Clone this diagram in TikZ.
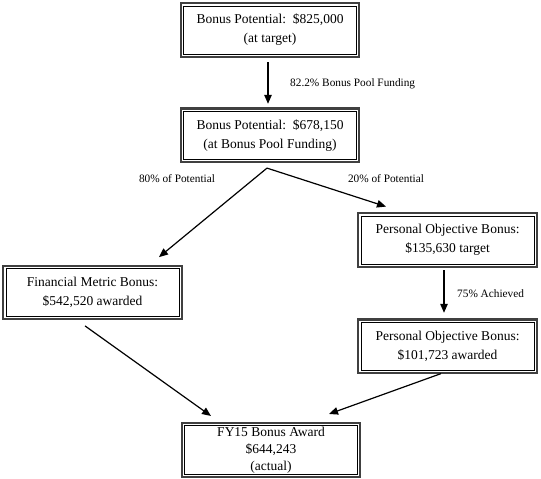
\documentclass[tikz,border=0pt]{standalone}
\usepackage{fontspec}
\setmainfont{Liberation Serif}
\usetikzlibrary{positioning, arrows.meta}

\begin{document}
\begin{tikzpicture}[
    x=1pt, y=-1pt,
    >={Triangle[length=9pt,width=7.5pt]},
    box/.style={
        rectangle,
        draw,
        line width=0.8pt,
        minimum width=173pt,
        minimum height=48pt,
        inner sep=1pt,
        align=center,
        font=\fontsize{13.5}{19}\selectfont
    },
    frame/.style={draw=black!75, line width=2.2pt},
    arrow/.style={->, line width=1.2pt},
    lbl/.style={font=\fontsize{11.3}{13}\selectfont, inner sep=0pt}
]
\useasboundingbox (0,0) rectangle (541,479);

% Top boxes
\node[box] (target) at (270,30) {Bonus Potential:~~\$825,000\\(at target)};
\node[box, below=56.4pt of target] (funding) {Bonus Potential:~~\$678,150\\(at Bonus Pool Funding)};

% Split boxes
\node[box] (financial) at (92.5,292.5) {Financial Metric Bonus:\\\$542,520 awarded};
\node[box] (personal) at (447.5,240) {Personal Objective Bonus:\\\$135,630 target};
\node[box, below=57.4pt of personal] (earned) {Personal Objective Bonus:\\\$101,723 awarded};

% Result
\node[box, minimum height=47pt, font=\fontsize{13.5}{17}\selectfont] (award) at (271,450) {FY15 Bonus Award\\\$644,243\\(actual)};

% Outer frames
\foreach \n in {target, funding, financial, personal, earned, award}
    \draw[frame] ([shift={(-2.3pt,2.3pt)}]\n.north west) rectangle ([shift={(2.3pt,-2.3pt)}]\n.south east);

% Labels
\node[lbl, anchor=west] (lpool) at (290,84) {82.2\% Bonus Pool Funding};
\node[lbl] (lfin) at (177,179) {80\% of Potential};
\node[lbl] (lpers) at (386,179) {20\% of Potential};
\node[lbl, anchor=west] (lach) at (457,294) {75\% Achieved};

% Arrows
\coordinate (split) at ([xshift=-3pt,yshift=-8.5pt]funding.south);
\draw[arrow] ([xshift=-2pt,yshift=-8pt]target.south) -- ([xshift=-2pt,yshift=7pt]funding.north);
\draw[arrow] (split) -- ([xshift=66.5pt,yshift=11pt]financial.north);
\draw[arrow] (split) -- ([xshift=-61.5pt,yshift=9pt]personal.north);
\draw[arrow] ([xshift=-3.5pt,yshift=-6pt]personal.south) -- ([xshift=-3.5pt,yshift=9pt]earned.north);
\draw[arrow] ([xshift=-7.5pt,yshift=-9pt]financial.south) -- ([xshift=-60pt,yshift=9.5pt]award.north);
\draw[arrow] ([xshift=-6.5pt,yshift=-3pt]earned.south) -- ([xshift=58pt,yshift=11.5pt]award.north);

\end{tikzpicture}
\end{document}
